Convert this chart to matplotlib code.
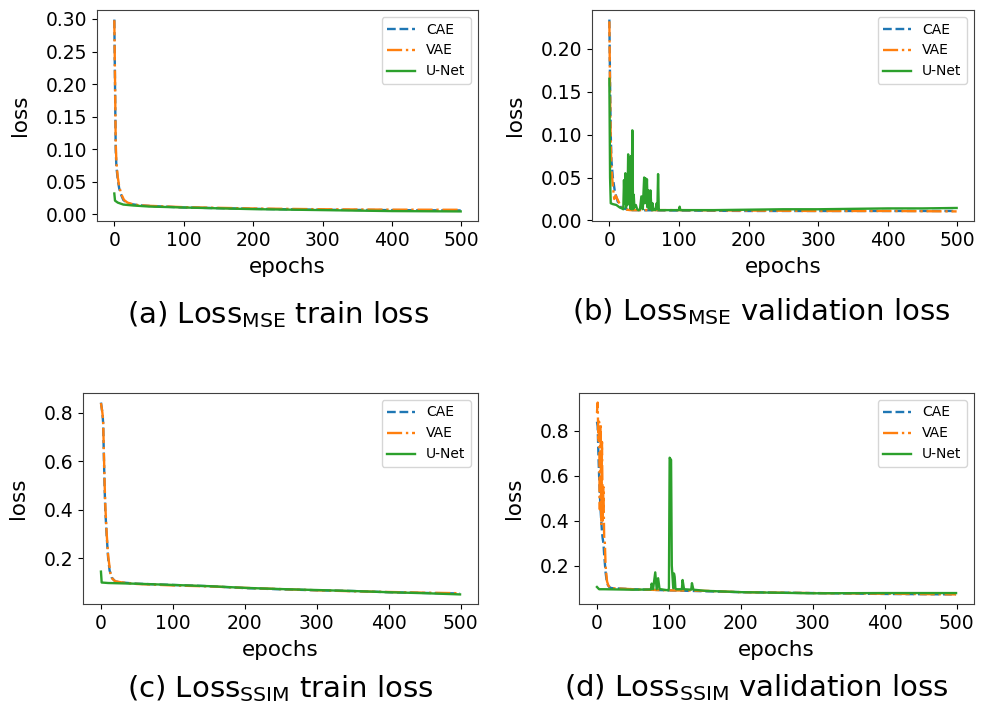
import numpy as np
import matplotlib
matplotlib.use("Agg")
import matplotlib.pyplot as plt

plt.rcParams['font.family'] = ['DejaVu Sans']
plt.rcParams['mathtext.default'] = 'regular'

# ---- (a) MSE train loss
a_cae_ep = [0, 1, 2, 3, 5, 7, 9, 13, 18, 23, 35, 52, 100, 200, 300, 400, 499]
a_cae = [0.299, 0.2, 0.1, 0.073, 0.053, 0.04, 0.032, 0.022, 0.018, 0.016, 0.014, 0.0128, 0.0105, 0.0085, 0.007, 0.0065, 0.006]
a_vae_ep = [0, 1, 2, 3, 5, 7, 10, 14, 19, 25, 35, 52, 100, 200, 300, 400, 499]
a_vae = [0.298, 0.21, 0.11, 0.08, 0.057, 0.043, 0.031, 0.022, 0.018, 0.016, 0.014, 0.013, 0.011, 0.009, 0.0078, 0.0072, 0.007]
a_unet_ep = [0, 1, 5, 13, 28, 50, 100, 200, 300, 400, 499]
a_unet = [0.032, 0.021, 0.018, 0.015, 0.0135, 0.012, 0.0105, 0.008, 0.0065, 0.005, 0.0045]

# ---- (b) MSE validation loss
b_cae_ep = [0, 1, 2, 3, 5, 8, 12, 16, 20, 30, 100, 200, 300, 400, 499]
b_cae = [0.234, 0.16, 0.1, 0.07, 0.05, 0.033, 0.022, 0.016, 0.014, 0.012, 0.0115, 0.011, 0.011, 0.011, 0.011]
b_vae_ep = [0, 1, 2, 3, 5, 7, 9, 12, 16, 20, 30, 100, 200, 300, 400, 499]
b_vae = [0.232, 0.15, 0.09, 0.06, 0.04, 0.025, 0.029, 0.024, 0.017, 0.013, 0.012, 0.012, 0.0115, 0.011, 0.011, 0.0105]
b_unet_ep = [0, 1, 2, 5, 10, 15, 18, 20, 21, 22, 23, 24, 25, 26, 27, 28, 29, 30, 31, 32, 33, 34, 35, 36,
             38, 40, 42, 44, 46, 48, 50, 51, 52, 53, 54, 55, 56, 57, 58, 59, 60, 61, 62, 63, 64, 66, 68,
             69, 70, 71, 72, 80, 90, 100, 101, 102, 110, 150, 200, 250, 300, 350, 400, 450, 499]
b_unet = [0.165, 0.05, 0.02, 0.019, 0.018, 0.015, 0.014, 0.013, 0.047, 0.02, 0.055, 0.015, 0.04, 0.018,
          0.077, 0.02, 0.06, 0.014, 0.075, 0.013, 0.105, 0.013, 0.03, 0.015, 0.018, 0.013, 0.012, 0.013,
          0.028, 0.013, 0.05, 0.02, 0.049, 0.025, 0.048, 0.015, 0.035, 0.03, 0.013, 0.035, 0.02, 0.012,
          0.02, 0.012, 0.013, 0.012, 0.02, 0.013, 0.054, 0.012, 0.012, 0.012, 0.012, 0.012, 0.016, 0.012,
          0.012, 0.012, 0.0125, 0.013, 0.013, 0.0135, 0.014, 0.014, 0.0145]

# ---- (c) SSIM train loss
c_cae_ep = [0, 2, 3, 5, 6, 8, 10, 12, 15, 20, 30, 50, 100, 150, 200, 250, 300, 350, 400, 450, 499]
c_cae = [0.842, 0.8, 0.76, 0.5, 0.4, 0.29, 0.2, 0.15, 0.12, 0.104, 0.1, 0.095, 0.09, 0.085, 0.077, 0.072, 0.068, 0.065, 0.06, 0.057, 0.055]
c_vae_ep = [0, 2, 3, 5, 6, 8, 10, 13, 16, 20, 30, 50, 100, 150, 200, 250, 300, 350, 400, 450, 499]
c_vae = [0.84, 0.8, 0.77, 0.52, 0.42, 0.3, 0.21, 0.14, 0.115, 0.105, 0.1, 0.094, 0.088, 0.084, 0.078, 0.073, 0.068, 0.064, 0.061, 0.058, 0.056]
c_unet_ep = [0, 1, 10, 50, 100, 150, 200, 250, 300, 350, 400, 450, 499]
c_unet = [0.145, 0.1, 0.098, 0.095, 0.09, 0.085, 0.078, 0.073, 0.069, 0.065, 0.06, 0.056, 0.051]

# ---- (d) SSIM validation loss
d_cae_ep = [0, 1, 2, 3, 4, 5, 6, 7, 8, 9, 10, 12, 14, 17, 20, 50, 100, 200, 300, 400, 499]
d_cae = [0.84, 0.82, 0.7, 0.6, 0.52, 0.45, 0.4, 0.35, 0.32, 0.3, 0.25, 0.17, 0.12, 0.105, 0.1, 0.095, 0.09, 0.082, 0.078, 0.074, 0.072]
d_vae_ep = [0, 1, 2, 3, 4, 5, 6, 7, 8, 9, 10, 11, 12, 14, 16, 20, 50, 100, 150, 200, 300, 400, 499]
d_vae = [0.88, 0.925, 0.75, 0.84, 0.45, 0.83, 0.38, 0.75, 0.4, 0.55, 0.33, 0.3, 0.2, 0.13, 0.11, 0.1, 0.095, 0.09, 0.088, 0.082, 0.078, 0.075, 0.072]
d_unet_ep = [0, 3, 10, 50, 75, 76, 78, 81, 83, 85, 87, 89, 99, 100, 101, 103, 104, 105, 106, 107, 108, 109,
             110, 118, 119, 121, 131, 132, 134, 150, 200, 300, 400, 499]
d_unet = [0.105, 0.095, 0.095, 0.093, 0.094, 0.12, 0.095, 0.17, 0.095, 0.144, 0.095, 0.095, 0.09, 0.1,
          0.68, 0.67, 0.2, 0.15, 0.1, 0.165, 0.15, 0.1, 0.095, 0.095, 0.136, 0.095, 0.093, 0.122, 0.093,
          0.088, 0.082, 0.077, 0.078, 0.078]

labels = ['CAE', 'VAE', 'U-Net']
styles = ['--', '-.', '-']
colors = ['#1f77b4', '#ff7f0e', '#2ca02c']
captions = ['(a) Loss$_{MSE}$ train loss', '(b) Loss$_{MSE}$ validation loss',
            '(c) Loss$_{SSIM}$ train loss', '(d) Loss$_{SSIM}$ validation loss']

panels = [
    [(a_cae_ep, a_cae), (a_vae_ep, a_vae), (a_unet_ep, a_unet)],
    [(b_cae_ep, b_cae), (b_vae_ep, b_vae), (b_unet_ep, b_unet)],
    [(c_cae_ep, c_cae), (c_vae_ep, c_vae), (c_unet_ep, c_unet)],
    [(d_cae_ep, d_cae), (d_vae_ep, d_vae), (d_unet_ep, d_unet)],
]

W, H = 987, 706
# axes boxes in pixels: left, top, right, bottom
boxes = [(97, 10, 478, 221), (592, 10, 974, 221), (83, 393, 478, 604), (579, 393, 974, 604)]
cap_pos = [(278, 315), (761, 312), (280, 689), (756, 688)]

fig = plt.figure(figsize=(W / 100, H / 100), dpi=100)

for i in range(4):
    l, t, r, b = boxes[i]
    ax = fig.add_axes([l / W, 1 - b / H, (r - l) / W, (b - t) / H])
    for (ep, val), lab, ls, c in zip(panels[i], labels, styles, colors):
        ax.plot(ep, val, ls, color=c, lw=1.7, label=lab)
    ax.set_xticks([0, 100, 200, 300, 400, 500])
    if i == 0:
        ax.set_yticks([0.0, 0.05, 0.10, 0.15, 0.20, 0.25, 0.30])
        ax.set_yticklabels(['0.00', '0.05', '0.10', '0.15', '0.20', '0.25', '0.30'])
    elif i == 1:
        ax.set_yticks([0.0, 0.05, 0.10, 0.15, 0.20])
        ax.set_yticklabels(['0.00', '0.05', '0.10', '0.15', '0.20'])
    else:
        ax.set_yticks([0.2, 0.4, 0.6, 0.8])
    ax.tick_params(labelsize=13.5)
    for s in ax.spines.values():
        s.set_color('0.25')
    ax.set_xlabel('epochs', fontsize=15.5, labelpad=5)
    ax.set_ylabel('loss', fontsize=15.5, labelpad=11)
    ax.legend(loc='upper right', fontsize=10)
    cx, cy = cap_pos[i]
    fig.text(cx / W, 1 - cy / H, captions[i], fontsize=21, ha='center', va='center')

fig.savefig('out.png', dpi=100)
